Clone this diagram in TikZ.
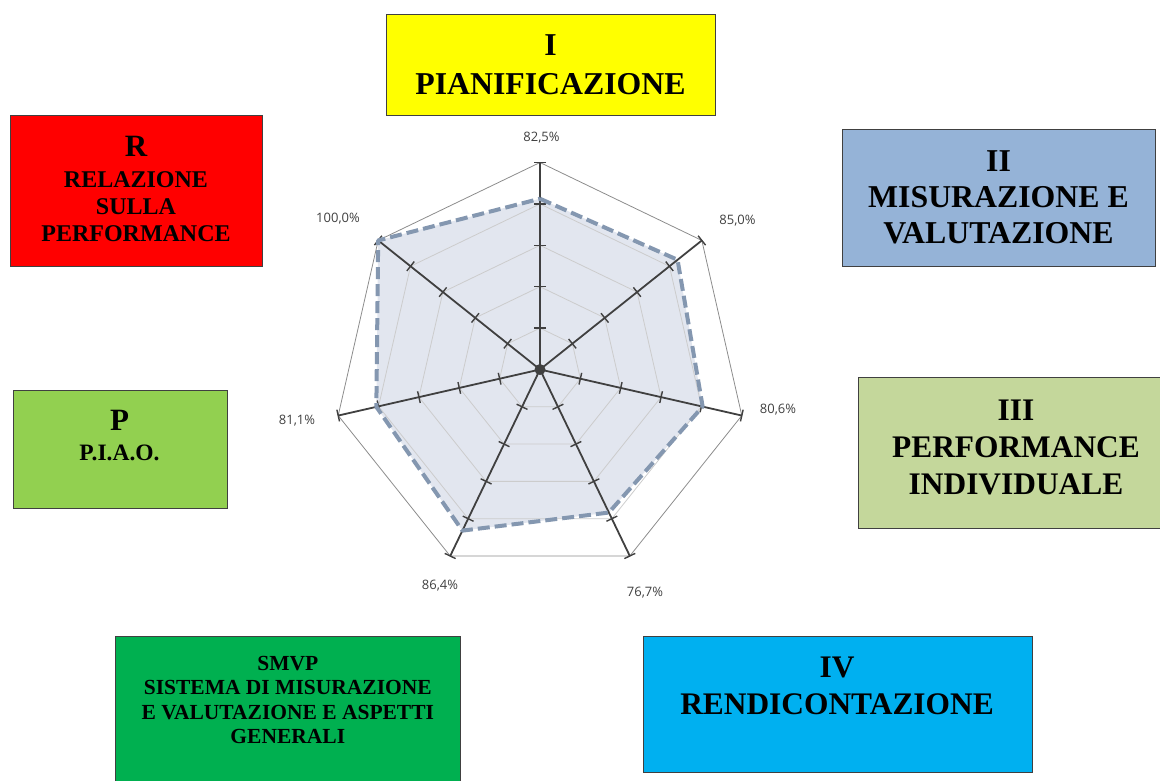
\documentclass[tikz,border=0pt]{standalone}
\usepackage{fontspec}
\setmainfont{Liberation Serif}
\newfontfamily\valfont{Open Sans}
\usepackage{tikz}

\definecolor{giallo}{HTML}{FFFF00}
\definecolor{rosso}{HTML}{FF0000}
\definecolor{azzurrogrigio}{HTML}{95B3D7}
\definecolor{verdechiaro}{HTML}{92D050}
\definecolor{oliva}{HTML}{C4D79B}
\definecolor{verde}{HTML}{00B050}
\definecolor{ciano}{HTML}{00B0F0}
\definecolor{grigioscuro}{HTML}{404040}
\definecolor{bluradar}{HTML}{8497B0}
\definecolor{areadati}{RGB}{226,230,239}

\begin{document}
\begin{tikzpicture}[x=1pt, y=-1pt, every node/.style={inner sep=0pt}]

\tikzstyle{fase} = [rectangle, draw=black!75, line width=1pt]
\tikzstyle{testo} = [align=center, text=black]
\tikzstyle{valore} = [font=\valfont\fontsize{13}{15}\selectfont, text=grigioscuro]
\tikzstyle{asse} = [draw=grigioscuro, line width=1.8pt]
\tikzstyle{tacca} = [draw=grigioscuro, line width=1.4pt]
\tikzstyle{griglia} = [draw=black!20, line width=0.8pt]
\tikzstyle{bordo} = [draw=black!45, line width=0.8pt]
\tikzstyle{dati} = [draw=bluradar, line width=4pt, dash pattern=on 12pt off 5pt, line join=round]

\useasboundingbox (0,0) rectangle (1160,781);

    % Place boxes
    \node [fase, fill=giallo, minimum width=329pt, minimum height=101pt] (pianif) at (550.5,65.5) {};
    \node [fase, fill=rosso, minimum width=252pt, minimum height=150pt] (relaz) at (136,191) {};
    \node [fase, fill=azzurrogrigio, minimum width=313pt, minimum height=136pt] (misuraz) at (998.5,198) {};
    \node [fase, fill=verdechiaro, minimum width=214pt, minimum height=118pt] (piao) at (120,449) {};
    \node [fase, fill=oliva, minimum width=317pt, minimum height=151pt] (perfind) at (1016.5,452.8) {};
    \node [fase, fill=verde, minimum width=345pt, minimum height=158pt] (smvp) at (288.3,715) {};
    \node [fase, fill=ciano, minimum width=389pt, minimum height=135.5pt] (rendic) at (837.5,704.5) {};

    % Box texts
    \node [testo, font=\bfseries\fontsize{31.8}{39}\selectfont] (pianifT) at (550.5,64.7) {I\\PIANIFICAZIONE};
    \node [testo, font=\bfseries\fontsize{24}{27}\selectfont] (relazT) at (136,189)
        {{\fontsize{31}{31}\selectfont R}\\[3.5pt]RELAZIONE\\SULLA\\PERFORMANCE};
    \node [testo, font=\bfseries\fontsize{31.8}{36}\selectfont] (misurazT) at (998.5,197.5) {II\\MISURAZIONE E\\VALUTAZIONE};
    \node [testo, font=\bfseries\fontsize{23.5}{30}\selectfont] (piaoT) at (119.5,436)
        {{\fontsize{31}{31}\selectfont P}\\P.I.A.O.};
    \node [testo, font=\bfseries\fontsize{31.4}{36.7}\selectfont] (perfindT) at (1016,447.5) {III\\PERFORMANCE\\INDIVIDUALE};
    \node [testo, font=\bfseries\fontsize{21.5}{24.3}\selectfont] (smvpT) at (287.8,700)
        {SMVP\\SISTEMA DI MISURAZIONE\\E VALUTAZIONE E ASPETTI\\GENERALI};
    \node [testo, font=\bfseries\fontsize{31.4}{37.7}\selectfont] (rendicT) at (837,686) {IV\\RENDICONTAZIONE};

    % Radar chart
    \begin{scope}[shift={(540,369.5)}, y=1pt]
    \def\R{207}
    \foreach \v [count=\k from 0] in {82.5,85.0,80.6,76.7,86.4,81.1,100.0}
        \coordinate (d\k) at ({90-\k*360/7}:{\v/100*\R});
    \fill [areadati] (d0) -- (d1) -- (d2) -- (d3) -- (d4) -- (d5) -- (d6) -- cycle;
    \foreach \f in {0.2,0.4,0.6,0.8}
        \draw [griglia] (90:{\f*\R}) \foreach \k in {1,...,6} { -- ({90-\k*360/7}:{\f*\R}) } -- cycle;
    \draw [bordo] (90:\R) \foreach \k in {1,...,6} { -- ({90-\k*360/7}:\R) } -- cycle;
    \foreach \k in {0,...,6} {
        \draw [asse] (0,0) -- ({90-\k*360/7}:\R);
        \foreach \f in {0.2,0.4,0.6,0.8,1}
            \draw [tacca, rotate={90-\k*360/7}] ({\f*\R},-6) -- ({\f*\R},6);
    }
    \fill [grigioscuro] (0,0) circle (5.5);
    \draw [dati] (d0) -- (d1) -- (d2) -- (d3) -- (d4) -- (d5) -- (d6) -- cycle;
    \end{scope}

    % Values
    \node [valore] (val0) at (541.5,137.5) {82,5\%};
    \node [valore] (val1) at (737.5,221) {85,0\%};
    \node [valore] (val2) at (778,410) {80,6\%};
    \node [valore] (val3) at (645,593) {76,7\%};
    \node [valore] (val4) at (440,586) {86,4\%};
    \node [valore] (val5) at (297,421) {81,1\%};
    \node [valore] (val6) at (338,219) {100,0\%};
\end{tikzpicture}
\end{document}
